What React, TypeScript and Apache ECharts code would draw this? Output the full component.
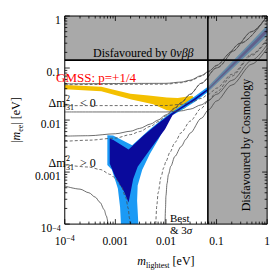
import React, { useEffect, useRef } from 'react';
import * as echarts from 'echarts';

const SERIF = '"Liberation Serif", "DejaVu Serif", serif';

const X_MIN = 1e-4, X_MAX = 1, Y_MIN = 1e-4, Y_MAX = 1;
const BOUND_0NBB = 0.142;
const BOUND_COSMO = 0.0674;

const MAJOR_TICKS = [1e-4, 1e-3, 1e-2, 1e-1, 1];
const TICK_LABELS = ['10{sup|\u22124}', '0.001', '0.01', '0.1', '1'];
const MINOR_TICKS = [
  2e-4, 3e-4, 4e-4, 5e-4, 6e-4, 7e-4, 8e-4, 9e-4,
  2e-3, 3e-3, 4e-3, 5e-3, 6e-3, 7e-3, 8e-3, 9e-3,
  0.02, 0.03, 0.04, 0.05, 0.06, 0.07, 0.08, 0.09,
  0.2, 0.3, 0.4, 0.5, 0.6, 0.7, 0.8, 0.9,
];

// Normal hierarchy (Δm²31 > 0) bounds: dashed = best fit, solid = 3σ
const NH_UPPER_BEST = [[1e-4, 0.0039], [3e-4, 0.0041], [1e-3, 0.0045], [2e-3, 0.00525], [3e-3, 0.006], [5e-3, 0.0076], [7e-3, 0.0093], [0.01, 0.012], [0.015, 0.0166], [0.02, 0.0213], [0.03, 0.031], [0.05, 0.0507], [0.1, 0.1004], [0.3, 0.3], [1, 1]];
const NH_UPPER_3S = [[1e-4, 0.0049], [3e-4, 0.005], [1e-3, 0.00545], [2e-3, 0.0061], [3e-3, 0.0069], [5e-3, 0.0084], [7e-3, 0.01], [0.01, 0.0126], [0.015, 0.0171], [0.02, 0.0218], [0.03, 0.0314], [0.05, 0.0511], [0.1, 0.1006], [0.3, 0.3], [1, 1]];
const NH_LOWER_BEST_A = [[1e-4, 0.00138], [3e-4, 0.00125], [5e-4, 0.00112], [8e-4, 0.0009], [1e-3, 0.00076], [1.3e-3, 0.00054], [1.6e-3, 0.00033], [1.8e-3, 0.0002], [1.9e-3, 0.00013], [1.95e-3, 0.0001]];
const NH_LOWER_BEST_B = [[6.3e-3, 1e-4], [6.6e-3, 2.3e-4], [7e-3, 4e-4], [8e-3, 8e-4], [9e-3, 1.2e-3], [0.01, 1.6e-3], [0.012, 2.4e-3], [0.015, 3.7e-3], [0.02, 5.7e-3], [0.03, 9.5e-3], [0.05, 0.0168], [0.07, 0.024], [0.1, 0.0345], [0.2, 0.07], [0.5, 0.175], [1, 0.35]];
const NH_LOWER_3S_A = [[1e-4, 5.4e-4], [2e-4, 4.7e-4], [3e-4, 4.0e-4], [4e-4, 3.3e-4], [5e-4, 2.6e-4], [6e-4, 1.9e-4], [6.6e-4, 1.45e-4], [7.2e-4, 1.0e-4]];
const NH_LOWER_3S_B = [[9.6e-3, 1e-4], [9.8e-3, 2e-4], [0.01, 3.5e-4], [0.0105, 6e-4], [0.0112, 9e-4], [0.0125, 1.3e-3], [0.015, 2.0e-3], [0.02, 3.1e-3], [0.025, 4.3e-3], [0.03, 5.6e-3], [0.05, 0.0108], [0.07, 0.0158], [0.1, 0.0232], [0.2, 0.047], [0.5, 0.119], [1, 0.238]];

// Inverted hierarchy (Δm²31 < 0) bounds
const IH_UPPER_BEST = [[1e-4, 0.0478], [0.01, 0.049], [0.02, 0.0521], [0.03, 0.0567], [0.05, 0.0695], [0.07, 0.0851], [0.1, 0.111], [0.2, 0.2058], [0.5, 0.5023], [1, 1]];
const IH_UPPER_3S = [[1e-4, 0.0497], [0.01, 0.0508], [0.02, 0.0537], [0.03, 0.0582], [0.05, 0.0716], [0.07, 0.0865], [0.1, 0.1125], [0.2, 0.2062], [0.5, 0.503], [1, 1]];
const IH_LOWER_BEST = [[1e-4, 0.0189], [0.01, 0.019], [0.02, 0.02], [0.03, 0.0215], [0.05, 0.026], [0.07, 0.0316], [0.1, 0.041], [0.2, 0.0755], [0.5, 0.184], [1, 0.366]];
const IH_LOWER_3S = [[1e-4, 0.0143], [0.01, 0.0143], [0.02, 0.015], [0.03, 0.0162], [0.05, 0.0196], [0.07, 0.0239], [0.1, 0.0312], [0.2, 0.0577], [0.5, 0.141], [1, 0.281]];

// GMSS p=+1/4 predictions (regions)
const GMSS_NH_OUTER = [
  [6.94e-4, 5.09e-3], [9.02e-4, 5.04e-3], [2.15e-3, 3.26e-3], [4.74e-3, 6.6e-3], [8.47e-3, 0.0104],
  [0.01337, 0.01453], [0.01943, 0.01863], [0.0362, 0.0282], [0.0674, 0.0436], [1, 0.66],
  [1, 0.418], [0.0674, 0.0347], [0.0362, 0.022], [0.0194, 0.0151], [0.01337, 0.0123],
  [0.0103, 8.83e-3], [7.27e-3, 4.42e-3], [4.8e-3, 2.22e-3], [3.4e-3, 1.11e-3], [2.76e-3, 5.55e-4],
  [2.69e-3, 2.82e-4], [2.85e-3, 1e-4], [1.29e-3, 1e-4], [1.24e-3, 2.11e-4], [1.12e-3, 4.84e-4],
  [8.54e-4, 1.11e-3], [6.94e-4, 1.365e-3],
];
const GMSS_NH_INNER = [
  [7.73e-4, 4.42e-3], [9.13e-4, 4.13e-3], [1.825e-3, 2.73e-3], [3.65e-3, 5.09e-3], [7.27e-3, 8.83e-3],
  [0.01267, 0.01337], [0.01943, 0.01751], [0.0362, 0.026], [0.0674, 0.0401], [1, 0.583],
  [1, 0.474], [0.0674, 0.0369], [0.0362, 0.0234], [0.0194, 0.0161], [0.01353, 0.01246],
  [9.59e-3, 6.69e-3], [6.34e-3, 3.85e-3], [4.18e-3, 2.22e-3], [2.76e-3, 1.27e-3], [2.25e-3, 7.33e-4],
  [1.825e-3, 2.6e-4], [1.48e-3, 4.22e-4], [9.79e-4, 8.4e-4], [7.73e-4, 1.465e-3],
];
const GMSS_IH = [
  [1e-4, 0.0474], [5.26e-4, 0.0436], [1.98e-3, 0.0322], [4.55e-3, 0.0296], [0.0104, 0.0271],
  [0.0171, 0.0266], [0.0333, 0.0294], [0.0362, 0.026], [0.0239, 0.01695], [0.0158, 0.0145],
  [0.0104, 0.0154], [5.59e-3, 0.0201], [2.07e-3, 0.0249], [5.26e-4, 0.0358], [1e-4, 0.0393],
];

const GREY_TOP = [[X_MIN, BOUND_0NBB], [X_MAX, BOUND_0NBB], [X_MAX, Y_MAX], [X_MIN, Y_MAX]];
const GREY_RIGHT = [[BOUND_COSMO, Y_MIN], [X_MAX, Y_MIN], [X_MAX, BOUND_0NBB], [BOUND_COSMO, BOUND_0NBB]];

const LINE_COLOR = '#4a4a4a';
const GREY_FILL = 'rgba(132,132,132,0.7)';

function polySeries(pts: number[][], fill: string, z: number) {
  return {
    type: 'custom', coordinateSystem: 'cartesian2d', silent: true, z, clip: true,
    data: [[1e-3, 1e-3]],
    renderItem: (_p: any, api: any) => ({
      type: 'polygon',
      shape: { points: pts.map((p) => api.coord(p)) },
      style: { fill },
    }),
  };
}

function lineSeries(data: number[][], dashed: boolean) {
  return {
    type: 'line', data, symbol: 'none', smooth: 0.3, smoothMonotone: 'x', silent: true, z: 6, clip: true,
    lineStyle: { color: LINE_COLOR, width: 0.8, type: dashed ? [3, 2] : 'solid' },
  };
}

function tickLabel(v: number) {
  const i = MAJOR_TICKS.findIndex((t) => Math.abs(Math.log10(t) - Math.log10(v)) < 1e-6);
  return i >= 0 ? TICK_LABELS[i] : '';
}

function deltaLabel(x: number, y: number, tail: string) {
  return {
    type: 'group', x, y, z: 1,
    children: [
      { type: 'text', x: 0, y: 0, z: 1, style: { text: '\u0394m', font: `12px ${SERIF}`, fill: '#000', verticalAlign: 'middle' } },
      { type: 'text', x: 17.5, y: -4.5, z: 1, style: { text: '2', font: `8px ${SERIF}`, fill: '#000', verticalAlign: 'middle' } },
      { type: 'text', x: 17.5, y: 4.5, z: 1, style: { text: '31', font: `8px ${SERIF}`, fill: '#000', verticalAlign: 'middle' } },
      { type: 'text', x: 31.5, y: 0, z: 1, style: { text: tail, font: `12px ${SERIF}`, fill: '#000', verticalAlign: 'middle' } },
    ],
  };
}

export default function App() {
  const ref = useRef<HTMLDivElement>(null);
  useEffect(() => {
    if (!ref.current) return;
    const chart = echarts.init(ref.current, undefined, { renderer: 'svg' });
    const xLabelRich = { sup: { fontSize: 8, lineHeight: 8, verticalAlign: 'top', fontFamily: SERIF, color: '#000' } };
    const yLabelRich = { sup: { fontSize: 8, lineHeight: 2, verticalAlign: 'top', fontFamily: SERIF, color: '#000' } };
    const nameStyle = {
      fontFamily: SERIF, fontSize: 12, color: '#000', lineHeight: 16,
      rich: {
        i: { fontFamily: SERIF, fontSize: 12, fontStyle: 'italic', lineHeight: 16 },
        s: { fontFamily: SERIF, fontSize: 8, lineHeight: 8, verticalAlign: 'bottom' },
      },
    };
    const option: any = {
      animation: false,
      grid: { left: 48, top: 16, right: 3, bottom: 36, show: false },
      xAxis: {
        type: 'log', logBase: 10, min: X_MIN, max: X_MAX,
        name: '{i|m}{s|lightest} [eV]', nameLocation: 'middle', nameGap: 25,
        nameTextStyle: nameStyle,
        axisLine: { show: false }, axisTick: { show: false }, splitLine: { show: false },
        axisLabel: { fontFamily: SERIF, fontSize: 11.5, color: '#000', margin: 10, lineHeight: 14, formatter: tickLabel, rich: xLabelRich },
      },
      yAxis: {
        type: 'log', logBase: 10, min: Y_MIN, max: Y_MAX,
        name: '|{i|m}{s|ee}| [eV]', nameLocation: 'middle', nameGap: 37, nameRotate: 90,
        nameTextStyle: nameStyle,
        axisLine: { show: false }, axisTick: { show: false }, splitLine: { show: false },
        axisLabel: { fontFamily: SERIF, fontSize: 11.5, color: '#000', margin: 4, lineHeight: 8, verticalAlign: 'top', formatter: tickLabel, rich: yLabelRich },
      },
      series: [
        polySeries(GMSS_IH, '#f4c000', 2),
        polySeries(GMSS_NH_OUTER, '#1b9af5', 3),
        polySeries(GMSS_NH_INNER, '#0a0a9c', 4),
        polySeries(GREY_TOP, GREY_FILL, 5),
        polySeries(GREY_RIGHT, GREY_FILL, 5),
        lineSeries(NH_UPPER_BEST, true),
        lineSeries(NH_UPPER_3S, false),
        lineSeries(NH_LOWER_BEST_A, true),
        lineSeries(NH_LOWER_BEST_B, true),
        lineSeries(NH_LOWER_3S_A, false),
        lineSeries(NH_LOWER_3S_B, false),
        lineSeries(IH_UPPER_BEST, true),
        lineSeries(IH_UPPER_3S, false),
        lineSeries(IH_LOWER_BEST, true),
        lineSeries(IH_LOWER_3S, false),
        {
          type: 'line', data: [[X_MIN, BOUND_0NBB], [X_MAX, BOUND_0NBB]], symbol: 'none', silent: true, z: 7,
          lineStyle: { color: '#000', width: 1.6 },
        },
        {
          type: 'line', data: [[BOUND_COSMO, Y_MIN], [BOUND_COSMO, Y_MAX]], symbol: 'none', silent: true, z: 7,
          lineStyle: { color: '#000', width: 1.6 },
        },
        {
          type: 'custom', coordinateSystem: 'cartesian2d', silent: true, z: 8, clip: false,
          data: [[1e-3, 1e-3]],
          renderItem: (_p: any, api: any) => {
            const lo = api.coord([X_MIN, Y_MIN]);
            const hi = api.coord([X_MAX, Y_MAX]);
            const children: any[] = [];
            const st = { stroke: '#000', lineWidth: 0.8 };
            const addTicks = (vals: number[], len: number) => {
              vals.forEach((v) => {
                const px = api.coord([v, Y_MIN])[0];
                const py = api.coord([X_MIN, v])[1];
                children.push({ type: 'line', shape: { x1: px, y1: lo[1], x2: px, y2: lo[1] - len }, style: st });
                children.push({ type: 'line', shape: { x1: px, y1: hi[1], x2: px, y2: hi[1] + len }, style: st });
                children.push({ type: 'line', shape: { x1: lo[0], y1: py, x2: lo[0] + len, y2: py }, style: st });
                children.push({ type: 'line', shape: { x1: hi[0], y1: py, x2: hi[0] - len, y2: py }, style: st });
              });
            };
            addTicks(MAJOR_TICKS, 5);
            addTicks(MINOR_TICKS, 2.5);
            children.push({
              type: 'rect',
              shape: { x: lo[0], y: hi[1], width: hi[0] - lo[0], height: lo[1] - hi[1] },
              style: { fill: 'none', stroke: '#000', lineWidth: 1 },
            });
            return { type: 'group', children };
          },
        },
      ],
      graphic: [
        {
          type: 'text', x: 93, y: 53, z: 10,
          style: {
            text: '{a|Disfavoured by 0}{b|\u03bd\u03b2\u03b2}', verticalAlign: 'middle',
            rich: {
              a: { fontFamily: SERIF, fontSize: 12, fill: '#000' },
              b: { fontFamily: SERIF, fontSize: 12, fontStyle: 'italic', fill: '#000' },
            },
          },
        },
        {
          type: 'text', x: 246, y: 145, z: 10, rotation: Math.PI / 2,
          style: { text: 'Disfavoured by Cosmology', font: `12px ${SERIF}`, fill: '#000', align: 'center', verticalAlign: 'middle' },
        },
        {
          type: 'text', x: 56, y: 77, z: 10,
          style: { text: 'GMSS: p=+1/4', font: `13px ${SERIF}`, fill: '#ff0000', verticalAlign: 'middle' },
        },
        deltaLabel(48.5, 103, '< 0'),
        deltaLabel(48.5, 163, '> 0'),
        {
          type: 'text', x: 170, y: 218, z: 10,
          style: { text: 'Best', font: `11px ${SERIF}`, fill: '#000', verticalAlign: 'middle' },
        },
        {
          type: 'text', x: 170, y: 229.5, z: 10,
          style: {
            text: '{a|& 3}{b|\u03c3}', verticalAlign: 'middle',
            rich: {
              a: { fontFamily: SERIF, fontSize: 11, fill: '#000' },
              b: { fontFamily: SERIF, fontSize: 11, fontStyle: 'italic', fill: '#000' },
            },
          },
        },
      ],
    };
    chart.setOption(option);
    return () => chart.dispose();
  }, []);
  return <div ref={ref} style={{ position: 'absolute', left: 0, top: 0, width: 273, height: 274 }} />;
}
